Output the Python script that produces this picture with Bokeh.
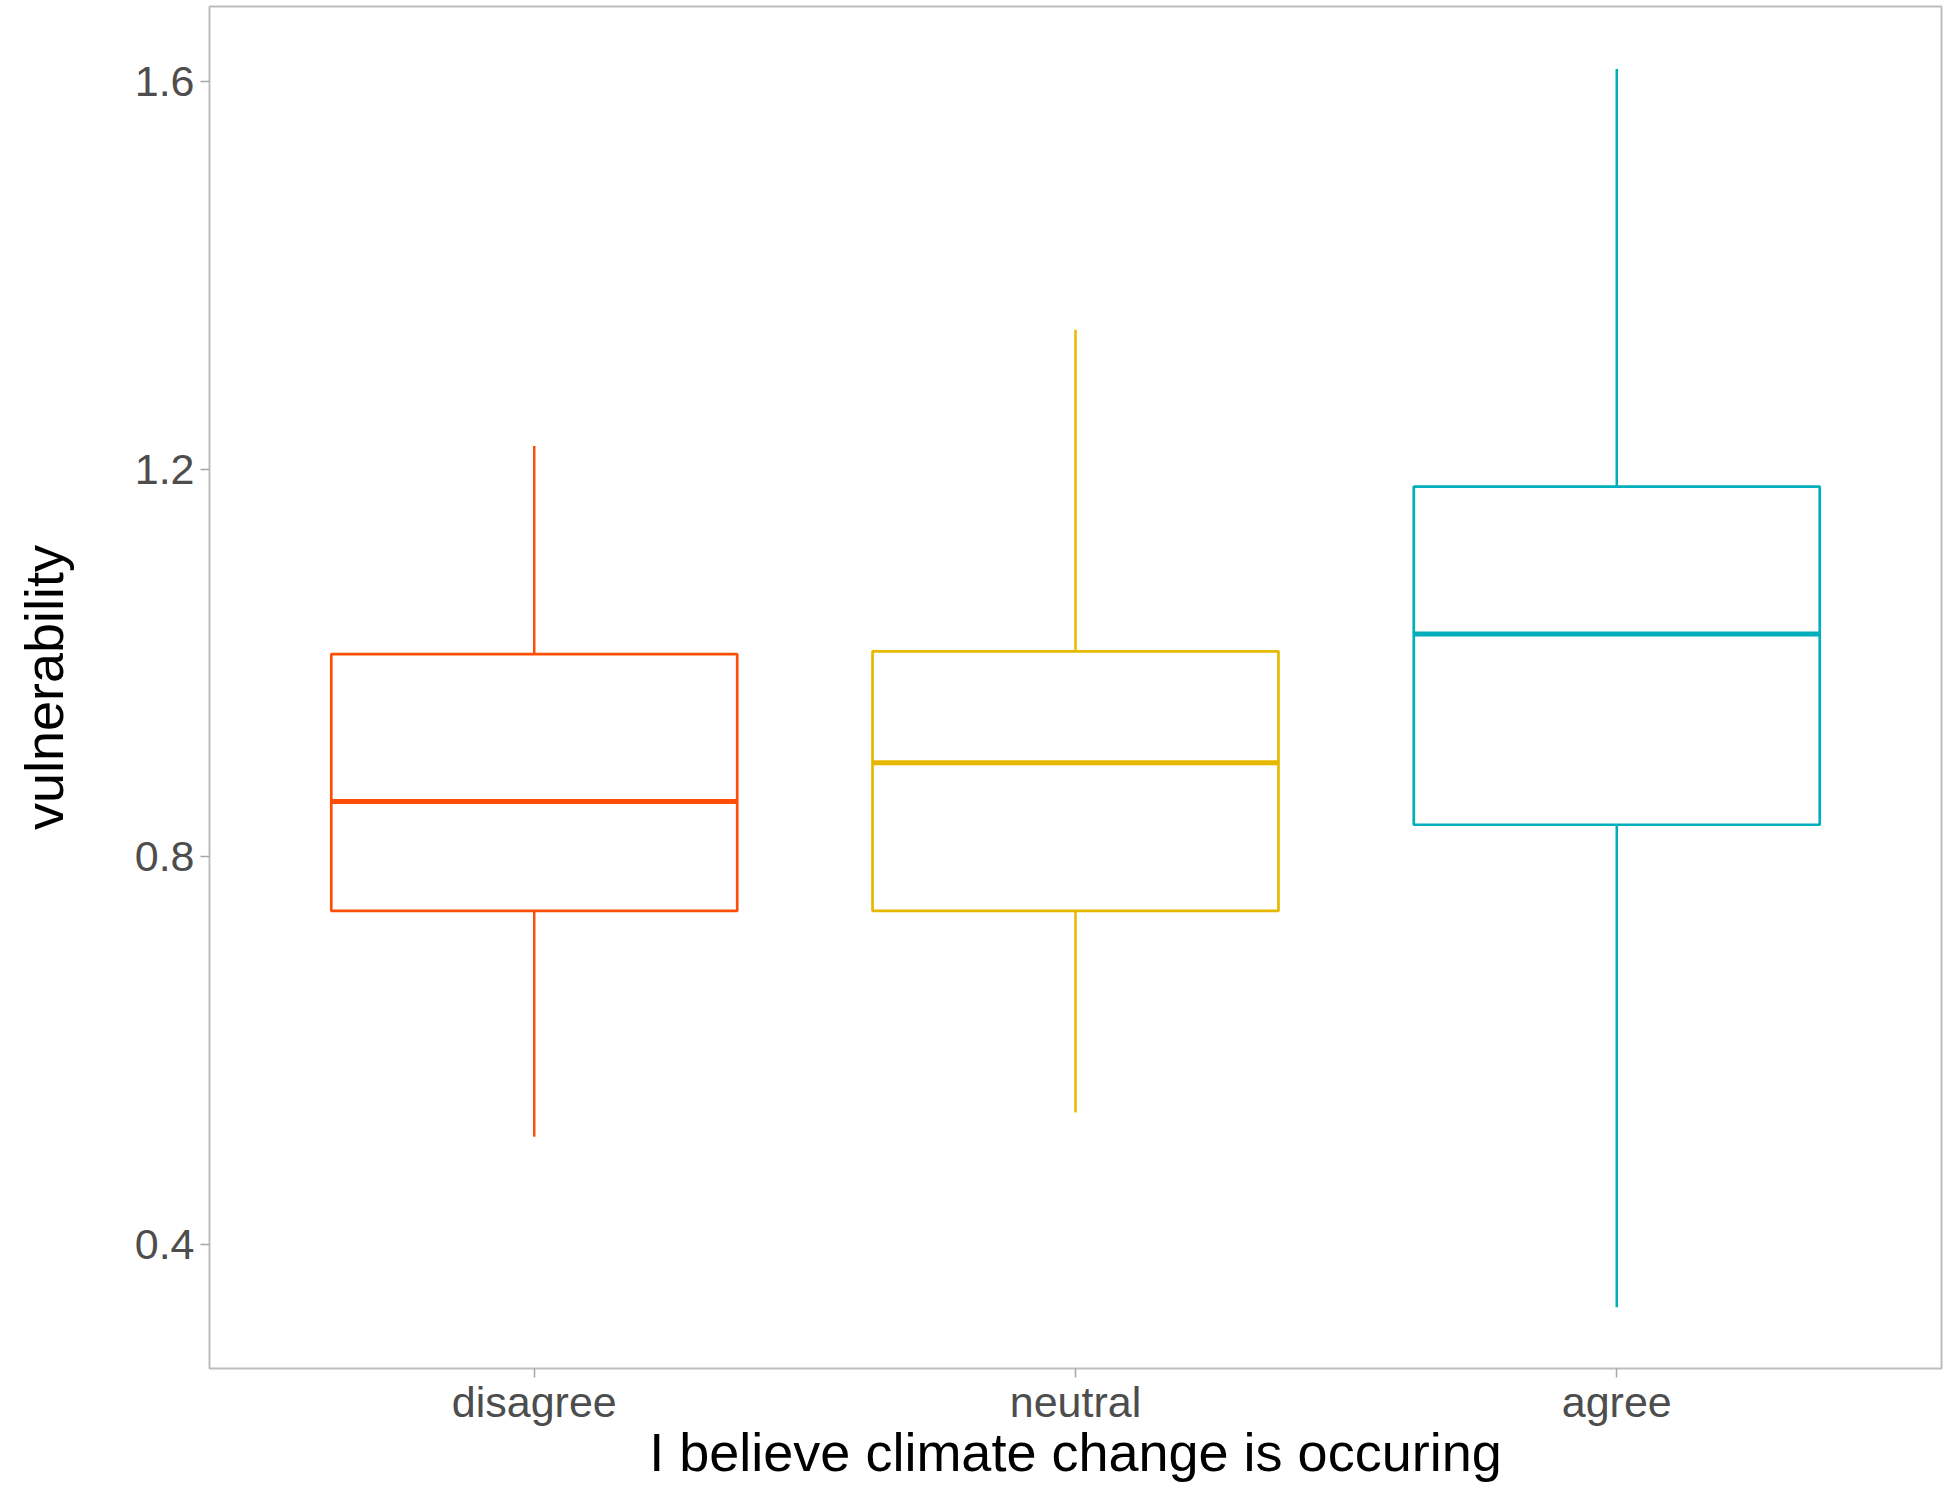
from bokeh.plotting import figure
from bokeh.models import ColumnDataSource, Range1d, FixedTicker
from bokeh.embed import file_html
from bokeh.resources import INLINE

# ---- data ----
categories = ["disagree", "neutral", "agree"]
lower_whisker = [0.511, 0.536, 0.335]
q1 = [0.744, 0.744, 0.833]
median = [0.857, 0.897, 1.030]
q3 = [1.009, 1.012, 1.182]
upper_whisker = [1.224, 1.344, 1.613]
colors = ["#FC4E07", "#E7B800", "#00AFBB"]
y_ticks = [0.4, 0.8, 1.2, 1.6]

positions = [i + 1 for i in range(len(categories))]
box_width = 0.75
src = ColumnDataSource(dict(
    x=positions,
    xl=[x - box_width / 2 for x in positions],
    xr=[x + box_width / 2 for x in positions],
    lo=lower_whisker, q1=q1, med=median, q3=q3, hi=upper_whisker,
    color=colors, cat=categories,
))

FONT = "Liberation Sans"

p = figure(
    width=1943, height=1484,
    x_range=Range1d(0.4, 3.6), y_range=Range1d(0.2717, 1.6776),
    output_backend="svg", toolbar_location=None,
    min_border_left=209, min_border_right=2, min_border_top=6, min_border_bottom=10,
    background_fill_color="white", border_fill_color="white",
)
p.xgrid.visible = False
p.ygrid.visible = False
p.outline_line_color = "#BDBDBD"
p.outline_line_width = 2

# whiskers
p.segment(x0="x", y0="q3", x1="x", y1="hi", source=src, line_color="color", line_width=2.5)
p.segment(x0="x", y0="q1", x1="x", y1="lo", source=src, line_color="color", line_width=2.5)
# boxes
p.vbar(x="x", width=box_width, bottom="q1", top="q3", source=src,
       fill_color="white", line_color="color", line_width=2.7)
# medians
p.segment(x0="xl", y0="med", x1="xr", y1="med", source=src, line_color="color", line_width=5)

# axes
p.xaxis.ticker = FixedTicker(ticks=positions)
p.xaxis.major_label_overrides = {x: c for x, c in zip(positions, categories)}
p.yaxis.ticker = FixedTicker(ticks=y_ticks)
p.xaxis.axis_label = "I believe climate change is occuring"
p.yaxis.axis_label = "vulnerability"

for ax in (p.xaxis[0], p.yaxis[0]):
    ax.axis_line_color = None
    ax.major_tick_line_color = "#A6A6A6"
    ax.major_tick_line_width = 1.5
    ax.major_tick_in = 0
    ax.major_tick_out = 9
    ax.minor_tick_line_color = None
    ax.major_label_text_font = FONT
    ax.major_label_text_font_size = "43px"
    ax.major_label_text_color = "#4D4D4D"
    ax.axis_label_text_font = FONT
    ax.axis_label_text_font_size = "54px"
    ax.axis_label_text_font_style = "normal"
    ax.axis_label_text_color = "#000000"

p.xaxis.major_label_standoff = 0
p.xaxis.axis_label_standoff = -7
p.yaxis.major_label_standoff = 6
p.yaxis.axis_label_standoff = 58

open("out.html", "w").write(file_html(p, INLINE))
